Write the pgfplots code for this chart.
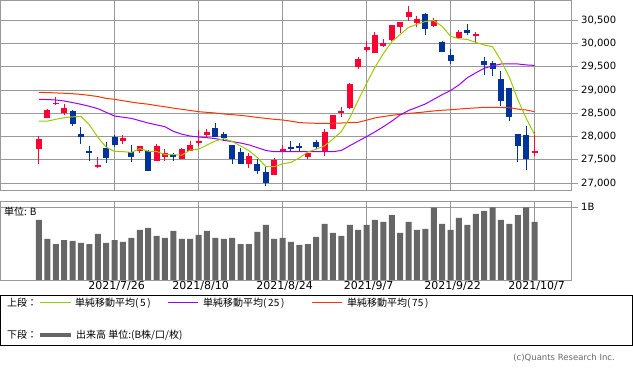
\documentclass[border=0pt]{standalone}
\usepackage{pgfplots}
\pgfplotsset{compat=1.18}
\usepackage{pgfplotstable}
\usepackage{fontspec}
\setmainfont{DejaVu Sans}
\newfontfamily\cjk{Noto Sans CJK JP}
\definecolor{upred}{HTML}{FF0033}
\definecolor{dnblue}{HTML}{003399}
\definecolor{mafive}{HTML}{99CC00}
\definecolor{matwf}{HTML}{9900FF}
\definecolor{masev}{HTML}{FF3300}
\definecolor{gridgray}{HTML}{999999}
\definecolor{volgray}{HTML}{666666}

\pgfplotstableread{
i o h l c
0 27731 28011 27408 27946
1 28404 28592 28404 28570
2 28695 28844 28678 28730
3 28499 28699 28463 28621
7 27350 27559 27328 27393
10 27910 28032 27845 27974
12 27688 27802 27651 27796
14 27479 27839 27479 27796
15 27565 27725 27479 27638
17 27516 27760 27516 27731
18 27694 27903 27694 27817
19 27860 28140 27802 27900
20 28032 28161 27996 28090
25 27415 27651 27328 27580
28 27178 27530 27178 27494
29 27660 27817 27660 27725
32 27565 27651 27509 27651
34 27694 28154 27587 28090
35 28168 28463 28168 28463
36 28499 28628 28413 28549
37 28607 29151 28592 29130
38 29502 29704 29459 29661
39 29861 30049 29825 29926
40 29790 30255 29790 30184
41 29954 30098 29932 30019
42 30077 30400 30055 30400
43 30363 30458 30234 30458
44 30578 30808 30492 30679
45 30436 30593 30350 30522
47 30378 30557 30363 30507
50 30126 30292 30126 30249
52 30163 30242 30006 30199
59 27638 28090 27580 27688
}\upt

\pgfplotstableread{
i o h l c
4 28549 28570 28233 28269
5 28054 28204 27838 27996
6 27690 27796 27479 27652
8 27753 27882 27430 27537
9 27989 28032 27774 27817
11 27673 27817 27458 27565
13 27688 27710 27264 27264
16 27617 27652 27479 27565
21 28189 28297 27996 27996
22 28060 28104 27903 27974
23 27817 27817 27408 27516
24 27673 27746 27408 27408
26 27408 27516 27186 27258
27 27229 27337 26935 27006
30 27781 27903 27673 27725
31 27802 27867 27694 27746
33 27875 27925 27731 27781
46 30630 30651 30191 30313
48 30040 30055 29825 29825
49 29754 29883 29560 29625
51 30292 30421 30191 30234
53 29631 29704 29330 29539
54 29588 29625 29302 29446
55 29237 29410 28663 28770
56 29050 29050 28340 28426
57 28054 28054 27458 27802
58 28032 28226 27279 27516
}\dnt

\pgfplotstableread{
i ma5 ma25 ma75
0 28330 28801 28951
1 28330 28795 28945
2 28370 28786 28938
3 28405 28764 28930
4 28424 28730 28921
5 28434 28693 28905
6 28251 28650 28885
7 27986 28600 28860
8 27769 28520 28820
9 27679 28441 28800
10 27675 28415 28770
11 27657 28390 28740
12 27738 28340 28715
13 27683 28290 28695
14 27679 28250 28665
15 27612 28211 28640
16 27612 28110 28610
17 27599 28050 28585
18 27709 28010 28560
19 27728 27990 28534
20 27818 27975 28520
21 27904 27955 28505
22 27953 27920 28485
23 27893 27890 28470
24 27797 27860 28455
25 27695 27820 28435
26 27547 27760 28410
27 27354 27700 28390
28 27349 27673 28370
29 27413 27673 28355
30 27442 27673 28330
31 27539 27673 28300
32 27668 27673 28290
33 27726 27673 28284
34 27799 27673 28284
35 27946 27673 28284
36 28107 27700 28290
37 28403 27802 28300
38 28779 27900 28306
39 29146 27996 28350
40 29490 28100 28400
41 29784 28211 28430
42 30038 28330 28455
43 30197 28463 28478
44 30348 28560 28495
45 30416 28628 28512
46 30474 28700 28530
47 30496 28800 28550
48 30369 28900 28565
49 30158 28990 28575
50 30104 29110 28590
51 30088 29265 28605
52 30026 29370 28615
53 29969 29468 28628
54 29933 29520 28628
55 29638 29560 28625
56 29276 29560 28620
57 28797 29560 28590
58 28392 29540 28570
59 28040 29530 28534
}\mat

\pgfplotstableread{
i v
0 0.826
1 0.564
2 0.495
3 0.550
4 0.537
5 0.509
6 0.495
7 0.633
8 0.509
9 0.550
10 0.523
11 0.578
12 0.688
13 0.716
14 0.606
15 0.578
16 0.674
17 0.564
18 0.564
19 0.619
20 0.674
21 0.578
22 0.564
23 0.578
24 0.495
25 0.495
26 0.661
27 0.757
28 0.564
29 0.578
30 0.523
31 0.482
32 0.495
33 0.592
34 0.771
35 0.647
36 0.606
37 0.757
38 0.688
39 0.757
40 0.826
41 0.798
42 0.894
43 0.647
44 0.798
45 0.688
46 0.702
47 0.995
48 0.771
49 0.688
50 0.853
51 0.757
52 0.908
53 0.950
54 1.000
55 0.826
56 0.771
57 0.894
58 1.000
59 0.798
}\volt

\begin{document}
\begin{tikzpicture}
\path[use as bounding box] (0,0) rectangle (633pt,-371pt);

% ---------- price panel ----------
\begin{axis}[
  at={(0pt,-190pt)}, anchor=south west,
  scale only axis, width=571.7pt, height=190pt,
  xmin=-4.64, xmax=63.42, ymin=26849, ymax=30937,
  axis line style={draw=gridgray, line width=0.8pt},
  xtick={9,19,29,39,49,59}, xticklabels={},
  ytick={27000,27500,28000,28500,29000,29500,30000,30500},
  scaled y ticks=false,
  xmajorgrids, ymajorgrids,
  grid style={draw=gridgray, line width=0.8pt},
  ytick pos=right, tick align=outside, major tick length=6pt,
  ytick style={draw=gridgray, line width=0.8pt},
  xtick style={draw=none},
  yticklabel style={font=\fontsize{10}{12}\selectfont, text=black},
  /pgf/number format/1000 sep={,},
  /pgf/number format/assume math mode=true,
]
\addplot[draw=none, mark=none, forget plot, error bars/.cd, y dir=minus, y explicit, error mark=none,
  error bar style={draw=upred, line width=1pt}]
  table[x=i, y=h, y error minus expr=\thisrow{h}-\thisrow{l}] {\upt};
\addplot[draw=none, mark=none, forget plot, error bars/.cd, y dir=minus, y explicit, error mark=none,
  error bar style={draw=dnblue, line width=1pt}]
  table[x=i, y=h, y error minus expr=\thisrow{h}-\thisrow{l}] {\dnt};
\addplot[draw=none, mark=none, forget plot, error bars/.cd, y dir=minus, y explicit, error mark=none,
  error bar style={draw=upred, line width=6pt}]
  table[x=i, y=c, y error minus expr=\thisrow{c}-\thisrow{o}] {\upt};
\addplot[draw=none, mark=none, forget plot, error bars/.cd, y dir=minus, y explicit, error mark=none,
  error bar style={draw=dnblue, line width=6pt}]
  table[x=i, y=o, y error minus expr=\thisrow{o}-\thisrow{c}] {\dnt};
\addplot[masev, line width=1pt, mark=none] table[x=i, y=ma75] {\mat};
\addplot[matwf, line width=1pt, mark=none] table[x=i, y=ma25] {\mat};
\addplot[mafive, line width=1pt, mark=none] table[x=i, y=ma5] {\mat};
\end{axis}

% ---------- volume panel ----------
\begin{axis}[
  at={(0pt,-280pt)}, anchor=south west,
  scale only axis, width=571.7pt, height=78.3pt,
  xmin=-4.64, xmax=63.42, ymin=0, ymax=1.077,
  axis line style={draw=gridgray, line width=0.8pt},
  xtick={9,19,29,39,49,59},
  xticklabels={2021/7/26,2021/8/10,2021/8/24,2021/9/7,2021/9/22,2021/10/7},
  xticklabel style={font=\fontsize{11}{13}\selectfont, xshift=2pt, yshift=8.5pt},
  ytick={1}, yticklabels={1B},
  xmajorgrids, ymajorgrids,
  grid style={draw=gridgray, line width=0.8pt},
  ytick pos=right, tick align=outside, major tick length=6pt,
  ytick style={draw=gridgray, line width=0.8pt},
  xtick style={draw=none},
  yticklabel style={font=\fontsize{10}{12}\selectfont},
]
\addplot[ybar, bar width=6pt, fill=volgray, draw=none] table[x=i, y=v] {\volt};
\end{axis}

\node[anchor=west, inner sep=0pt, font=\cjk\fontsize{10}{12}\selectfont] at (4pt,-211.5pt) {単位: B};

% ---------- legend ----------
\draw[black, line width=1pt] (0.5pt,-295.3pt) rectangle (632.5pt,-345.7pt);
\begin{scope}[every node/.style={anchor=west, inner sep=0pt, font=\cjk\fontsize{10}{12}\selectfont}]
\node at (7pt,-303pt) {上段：};
\draw[mafive, line width=1pt] (40pt,-303pt) -- (71pt,-303pt);
\node at (75pt,-303pt) {単純移動平均(\,5\,)};
\draw[matwf, line width=1pt] (168pt,-303pt) -- (198pt,-303pt);
\node at (203pt,-303pt) {単純移動平均(\,25\,)};
\draw[masev, line width=1pt] (312pt,-303pt) -- (342pt,-303pt);
\node at (347pt,-303pt) {単純移動平均(\,75\,)};
\node at (7pt,-335pt) {下段：};
\draw[volgray, line width=4pt] (40pt,-335pt) -- (71pt,-335pt);
\node at (76pt,-335pt) {出来高 単位:(B株/口/枚)};
\end{scope}
\node[anchor=east, inner sep=0pt, text=volgray, font=\fontsize{8.5}{10}\selectfont] at (615pt,-358pt) {(c)Quants Research Inc.};
\end{tikzpicture}
\end{document}
